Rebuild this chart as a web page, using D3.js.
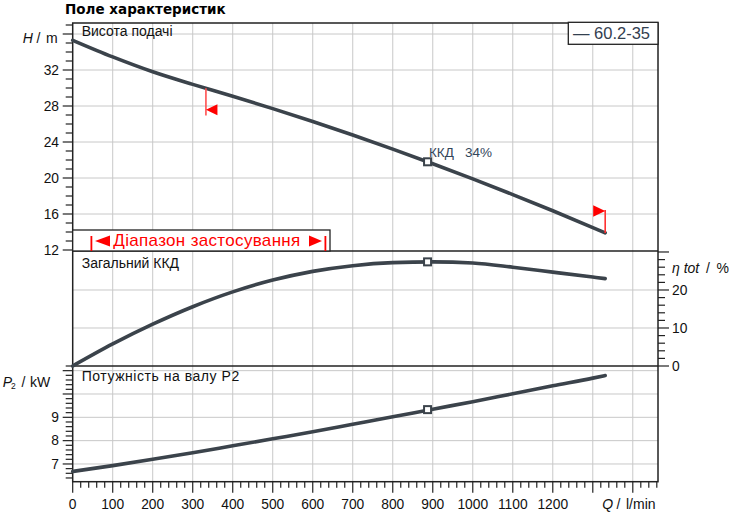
<!DOCTYPE html>
<html><head><meta charset="utf-8">
<script src="https://cdn.jsdelivr.net/npm/d3@7"></script>
<style>
html,body{margin:0;padding:0;background:#fff;}
svg{display:block;font-family:"Liberation Sans",Arial,sans-serif;}
</style></head>
<body><svg id="c" width="736" height="516"></svg>
<script>
// ---- data ----
const flow   = [0, 100, 200, 300, 400, 500, 600, 700, 800, 900, 1000, 1100, 1200, 1300, 1331];
const head   = [35.3, 33.45, 31.8, 30.4, 29.08, 27.71, 26.27, 24.77, 23.21, 21.59, 19.9, 18.16, 16.36, 14.49, 13.9];
const effic  = [0, 5.8, 11.0, 15.6, 19.5, 22.6, 24.9, 26.4, 27.2, 27.4, 27.1, 26.0, 24.7, 23.4, 23.0];
const power  = [6.68, 6.93, 7.2, 7.48, 7.78, 8.08, 8.38, 8.7, 9.02, 9.35, 9.67, 10.01, 10.35, 10.68, 10.79];
const dutyQ = 887, dutyH = 21.8, dutyEta = 27.4, dutyP = 9.33;
const rangeStartQ = 333, rangeEndQ = 1331;
const xTickLabels = [0,100,200,300,400,500,600,700,800,900,1000,1100,1200];
const hTickLabels = [12,16,20,24,28,32];
const etaTickLabels = [0,10,20];
const pTickLabels = [7,8,9];
const title = "Поле характеристик";
const legendText = "— 60.2-35";
const rangeText = "Діапазон застосування";

// ---- layout ----
const svg = d3.select("#c");
const L = 72.7, R = 658;
const x = d3.scaleLinear().domain([0,1463]).range([L,R]);
const yH = d3.scaleLinear().domain([12,37.2]).range([250,23.2]);
const yE = d3.scaleLinear().domain([0,30.26]).range([366,251]);
const yP = d3.scaleLinear().domain([6.24,11.2]).range([481.7,366]);
const TOP = 23, B1 = 251, B2 = 366, BOT = 481.7;
const grid = "#c8c8c8", dark = "#222", curveCol = "#3b434b";

// grid
const g = svg.append("g").attr("stroke", grid).attr("stroke-width", 1);
d3.range(100, 1463, 100).forEach(q => {
  g.append("line").attr("x1", x(q)).attr("x2", x(q)).attr("y1", TOP).attr("y2", BOT);
});
[16,20,24,28,32,36].forEach(v => g.append("line").attr("x1",L).attr("x2",R).attr("y1",yH(v)).attr("y2",yH(v)));
[10,20].forEach(v => g.append("line").attr("x1",L).attr("x2",R).attr("y1",yE(v)).attr("y2",yE(v)));
[7,8,9,10,11].forEach(v => g.append("line").attr("x1",L).attr("x2",R).attr("y1",yP(v)).attr("y2",yP(v)));

// frame
const f = svg.append("g").attr("stroke", dark).attr("stroke-width", 1.5).attr("fill","none");
f.append("rect").attr("x", L).attr("y", TOP).attr("width", R-L).attr("height", BOT-TOP);
f.append("line").attr("x1",L).attr("x2",R).attr("y1",B1).attr("y2",B1);
f.append("line").attr("x1",L).attr("x2",R).attr("y1",B2).attr("y2",B2);

// ticks
const t = svg.append("g").attr("stroke", dark).attr("stroke-width", 1.2);
d3.range(0, 1461, 20).forEach(q => {
  const major = q % 100 === 0;
  t.append("line").attr("x1", x(q)).attr("x2", x(q)).attr("y1", BOT).attr("y2", BOT + (major ? 11 : 6));
});
d3.range(12, 37.5, 1).forEach(v => {
  const major = (v - 12) % 4 === 0;
  t.append("line").attr("x1", L - (major ? 10 : 7)).attr("x2", L).attr("y1", yH(v)).attr("y2", yH(v));
});
d3.range(6.4, 11.21, 0.2).forEach(v => {
  const major = Math.abs(v - Math.round(v)) < 0.01;
  t.append("line").attr("x1", L - (major ? 10 : 7)).attr("x2", L).attr("y1", yP(v)).attr("y2", yP(v));
});
d3.range(0, 30.1, 2).forEach(v => {
  const major = v % 10 === 0;
  t.append("line").attr("x1", R).attr("x2", R + (major ? 11 : 7)).attr("y1", yE(v)).attr("y2", yE(v));
});

// tick labels
const lab = svg.append("g").attr("font-size", 13.8).attr("fill", "#111");
xTickLabels.forEach(v => lab.append("text").attr("x", x(v)).attr("y", 509).attr("text-anchor","middle").text(v));
hTickLabels.forEach(v => lab.append("text").attr("x", 59).attr("y", yH(v)).attr("dy","0.35em").attr("text-anchor","end").text(v));
pTickLabels.forEach(v => lab.append("text").attr("x", 59).attr("y", yP(v)).attr("dy","0.35em").attr("text-anchor","end").text(v));
etaTickLabels.forEach(v => lab.append("text").attr("x", 672).attr("y", yE(v)).attr("dy","0.35em").text(v));

// axis titles (pieces placed as in the reference)
const at = lab.append("g").attr("font-size", 14);
const piece = (txt, px, py, italic, size) => {
  const e = at.append("text").attr("x", px).attr("y", py).text(txt);
  if (italic) e.attr("font-style","italic");
  if (size) e.attr("font-size", size);
  return e;
};
piece("H", 22.7, 42.7, true); piece("/", 36.5, 42.7); piece("m", 46, 42.7);
piece("P", 2.7, 386.5, true); piece("2", 11, 388.5, false, 8.5); piece("/", 21.5, 386.5); piece("kW", 30, 386.5);
piece("η tot", 672, 272.5, true); piece("/", 706, 272.5); piece("%", 716.5, 272.5);
piece("Q", 602.3, 509, true); piece("/", 616.5, 509); piece("l/min", 626, 509);

// panel labels
lab.append("text").attr("x", 81.7).attr("y", 36.2).attr("font-size", 14).text("Висота подачі");
lab.append("text").attr("x", 81.7).attr("y", 267.5).attr("font-size", 14).text("Загальний ККД");
lab.append("text").attr("x", 81.7).attr("y", 381).attr("font-size", 14).attr("textLength", 157.5)
  .attr("lengthAdjust","spacing").text("Потужність на валу P2");

// title
svg.append("text").attr("x", 65).attr("y", 13.5).attr("font-family","'DejaVu Sans',Verdana,sans-serif")
  .attr("font-weight","bold").attr("font-size", 13.5).attr("fill","#000").text(title);

// curves
const pts = (ys) => flow.map((q,i) => [q, ys[i]]);
const mk = (ys) => d3.line().x(d => x(d[0])).y(d => ys(d[1])).curve(d3.curveMonotoneX);
const cg = svg.append("g").attr("fill","none").attr("stroke", curveCol).attr("stroke-width", 3.6).attr("stroke-linecap","round");
cg.append("path").attr("d", mk(yH)(pts(head)));
cg.append("path").attr("d", mk(yE)(pts(effic)));
cg.append("path").attr("d", mk(yP)(pts(power)));

// duty point markers
[[yH, dutyH],[yE, dutyEta],[yP, dutyP]].forEach(([s, v]) => {
  svg.append("rect").attr("x", x(dutyQ)-3.5).attr("y", s(v)-3.5).attr("width", 7).attr("height", 7)
    .attr("fill","#fff").attr("stroke", curveCol).attr("stroke-width", 2);
});
const dl = svg.append("g").attr("font-size", 13.5).attr("fill","#34465a");
dl.append("text").attr("x", 429).attr("y", 156.7).text("ККД");
dl.append("text").attr("x", 465).attr("y", 156.7).text("34%");

// red range markers on head curve
const red = "#ff0000";
const hs = d3.scaleLinear().domain(flow).range(head);
const xs = x(rangeStartQ), ys0 = yH(hs(rangeStartQ));
svg.append("line").attr("x1", xs).attr("x2", xs).attr("y1", ys0).attr("y2", 115.5).attr("stroke","#ff5050").attr("stroke-width",1.6);
svg.append("path").attr("d", `M${xs},${109.8}L${xs+11.5},${104.3}L${xs+11.5},${115.3}Z`).attr("fill", red);
const xe = x(rangeEndQ), ye0 = yH(hs(rangeEndQ));
svg.append("line").attr("x1", xe).attr("x2", xe).attr("y1", 210).attr("y2", ye0).attr("stroke","#ff3030").attr("stroke-width",1.6);
svg.append("path").attr("d", `M${xe},${211}L${xe-12},${205.2}L${xe-12},${216.8}Z`).attr("fill", red);

// legend
svg.append("rect").attr("x", 568.3).attr("y", 22.3).attr("width", R-568.3).attr("height", 22)
  .attr("fill","#fff").attr("stroke", dark).attr("stroke-width", 1.3);
svg.append("text").attr("x", 573).attr("y", 38.5).attr("font-size", 16.5).attr("fill","#33404f").text(legendText);

// application range box
svg.append("rect").attr("x", L).attr("y", 230).attr("width", 330-L).attr("height", B1-230)
  .attr("fill","#fff").attr("stroke", dark).attr("stroke-width", 1.3);
const rg = svg.append("g").attr("fill", red);
rg.append("rect").attr("x", 90.5).attr("y", 236).attr("width", 1.8).attr("height", 15);
rg.append("path").attr("d", "M95,241L110,235.5L110,246.5Z");
rg.append("text").attr("x", 113.3).attr("y", 246).attr("font-size", 17).attr("textLength", 187)
  .attr("lengthAdjust","spacing").text(rangeText);
rg.append("path").attr("d", "M322,241L309,235.5L309,246.5Z");
rg.append("rect").attr("x", 324.5).attr("y", 236).attr("width", 1.8).attr("height", 15);
</script></body></html>
